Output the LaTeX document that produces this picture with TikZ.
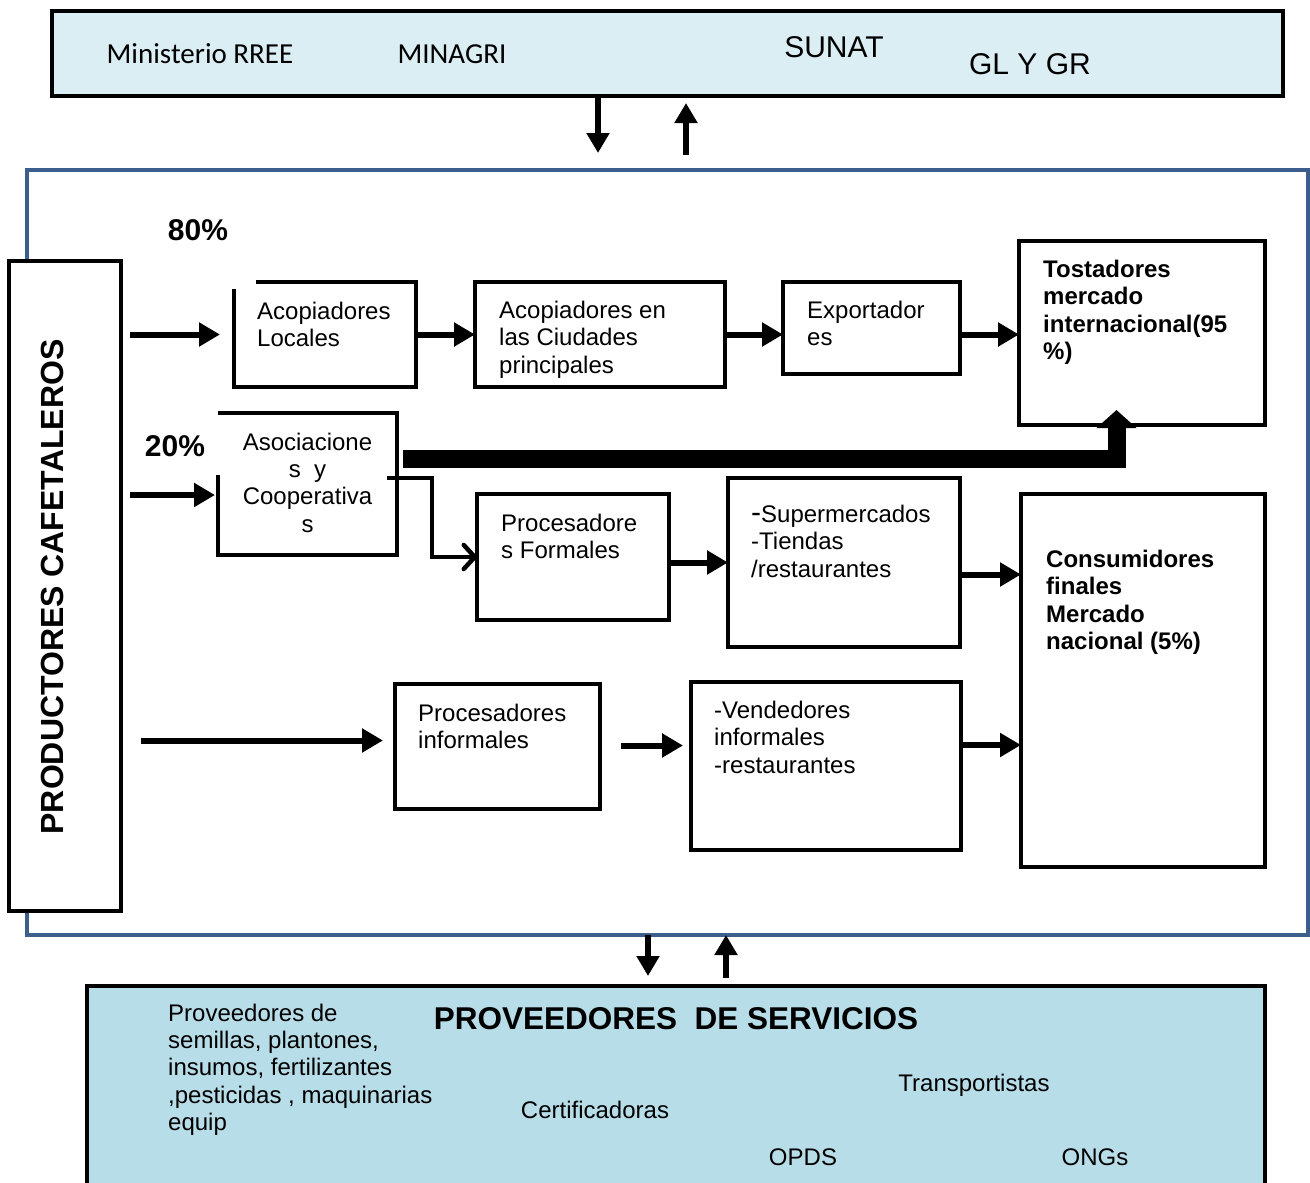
\documentclass[tikz,border=0pt]{standalone}
\usepackage{fontspec}
\setmainfont{Liberation Sans}
\newfontfamily\calib{Carlito}
\usetikzlibrary{arrows.meta}
\definecolor{topblue}{HTML}{DBEEF4}
\definecolor{svcblue}{HTML}{B7DDE8}
\definecolor{frameblue}{HTML}{3B5E8C}
\newcommand{\myfs}[2]{\fontsize{#1}{#2}\selectfont}
\begin{document}
\begin{tikzpicture}[x=1pt,y=-1pt,
  bx/.style={draw, fill=white, line width=4pt, anchor=north west, inner sep=0pt, outer sep=0pt},
  bxn/.style={anchor=north west, inner sep=0pt, outer sep=0pt},
  lbl/.style={anchor=north west, inner sep=0pt, align=left, font=\myfs{24}{27.6}},
  blbl/.style={anchor=north west, inner sep=0pt, align=left, font=\myfs{24}{27.6}\bfseries},
  one/.style={anchor=base, inner sep=0pt, font=\myfs{24}{27.6}},
  harr/.style={line width=6pt, -{Triangle[length=21pt,width=23pt]}},
  varr/.style={line width=5.5pt, -{Triangle[length=20pt,width=22pt]}},
  elb/.style={line width=4.5pt, line join=miter, -{Straight Barb[length=11pt,width=24pt,round]}},
  thickbar/.style={line width=18pt, line join=miter, -{Triangle[length=18pt,width=39pt]}},
  edge/.style={line width=4pt}
  ]
\useasboundingbox (0,0) rectangle (1310,1183);

% top government bar
\node[bx, fill=topblue, minimum width=1231, minimum height=85] (gov) at (52,11) {};
\node[anchor=base, inner sep=0pt, font=\calib\myfs{29}{33}] (t1) at (200,63) {Ministerio RREE};
\node[anchor=base, inner sep=0pt, font=\calib\myfs{29}{33}] (t2) at (452,63) {MINAGRI};
\node[anchor=base, inner sep=0pt, font=\myfs{30}{34}] (t3) at (834,57) {SUNAT};
\node[anchor=base, inner sep=0pt, font=\myfs{30}{34}] (t4) at (1030,74) {GL Y GR};

% main frame
\node[bx, fill=none, draw=frameblue, line width=3.5pt, minimum width=1281, minimum height=765] (frame) at (27,170) {};

\draw[varr] ([xshift=546pt]gov.south west) -- ([xshift=571pt,yshift=17pt]frame.north west);
\draw[varr] ([xshift=659pt,yshift=15pt]frame.north west) -- ([xshift=634pt,yshift=-7pt]gov.south west);

% productores
\node[bx, minimum width=112, minimum height=650] (prod) at (9,261) {};
\node[rotate=90, inner sep=0pt, font=\myfs{32}{34}\bfseries] (prodt) at (52,587) {PRODUCTORES CAFETALEROS};

\node[anchor=base, inner sep=0pt, font=\myfs{30}{34}\bfseries] (p80) at (198,240) {80\%};
\node[anchor=base, inner sep=0pt, font=\myfs{30}{34}\bfseries] (p20) at (175,456) {20\%};

% row 1
\node[bxn, minimum width=182, minimum height=105] (acl) at (234,282) {};
\draw[edge] ([yshift=-7pt]acl.north west) -- (acl.south west) -- (acl.south east) -- (acl.north east) -- ([xshift=22pt]acl.north west);
\node[lbl] (aclt) at (257,301.5) {Acopiadores\\Locales};

\node[bx, minimum width=250, minimum height=105] (acc) at (475,282) {};
\node[lbl] (acct) at (499,300.5) {Acopiadores en\\las Ciudades\\principales};

\node[bx, minimum width=177, minimum height=92] (exp) at (783,282) {};
\node[lbl] (expt) at (807,300.5) {Exportador\\es};

\node[bx, minimum width=246, minimum height=184] (tos) at (1019,241) {};
\node[blbl] (tost) at (1043,259.5) {Tostadores\\mercado\\internacional(95\\\%)};

\draw[harr] ([xshift=9pt]prod.east |- acl.west) -- ([xshift=-14pt]acl.west);
\draw[harr] (acl.east) -- (acc.west);
\draw[harr] (acc.east) -- (acc.east -| exp.west);
\draw[harr] (exp.east |- acc.east) -- (acc.east -| tos.west);

% asociaciones
\node[bxn, minimum width=179, minimum height=142] (aso) at (218,413) {};
\draw[edge] ([yshift=-62pt]aso.north west) -- (aso.south west) -- (aso.south east) -- (aso.north east) -- (aso.north west);
\node[anchor=north, inner sep=0pt, align=center, font=\myfs{24}{27.4}] (asot) at (307.5,432.5) {Asociacione\\s~~y\\Cooperativa\\s};
\draw[harr] ([xshift=9pt,yshift=-11pt]prod.east |- aso.west) -- ([xshift=-3pt,yshift=-11pt]aso.west);

\coordinate (tostip) at (1116.5,410);
\draw[thickbar] ([xshift=6pt,yshift=-46pt]aso.north east) -| (tostip);

% row 2
\node[bx, minimum width=192, minimum height=126] (pf) at (477,494) {};
\node[lbl] (pft) at (501,513.5) {Procesadore\\s Formales};
\draw[elb] ([xshift=-10pt,yshift=-65pt]aso.north east) -- ++(45,0) |- (pf.west);

\node[bx, minimum width=232, minimum height=169] (sup) at (728,478) {};
\node[lbl] (supt) at (751,504.5) {{\myfs{30}{27.6}-}Supermercados\\-Tiendas\\/restaurantes};
\draw[harr] (pf.east |- sup.west) -- (sup.west);

\node[bx, minimum width=244, minimum height=373] (cons) at (1021,494) {};
\node[blbl] (const) at (1046,549.5) {Consumidores\\finales\\Mercado\\nacional (5\%)};
\draw[harr] ([yshift=-12pt]sup.east) -- ([yshift=-12pt]sup.east -| cons.west);

% row 3
\node[bx, minimum width=205, minimum height=125] (pi) at (395,684) {};
\node[lbl] (pit) at (418,703.5) {Procesadores\\informales};
\node[bx, minimum width=270, minimum height=168] (ven) at (691,682) {};
\node[lbl] (vent) at (714,700.5) {-Vendedores\\informales\\-restaurantes};

\draw[harr] ([xshift=20pt,yshift=6pt]prod.east |- pi.west) -- ([xshift=-12pt,yshift=6pt]pi.west);
\draw[harr] ([xshift=21pt,yshift=1pt]pi.east) -- ([xshift=-8pt,yshift=1pt]pi.east -| ven.west);
\draw[harr] ([yshift=21pt]ven.east) -- ([yshift=21pt]ven.east -| cons.west);

% services box
\node[bxn, fill=svcblue, minimum width=1178, minimum height=205] (svc) at (87,986) {};
\draw[edge] (svc.south west) -- (svc.north west) -- (svc.north east) -- (svc.south east);

\draw[varr] ([xshift=621pt]frame.south west) -- ([xshift=561pt,yshift=10pt]svc.north west);
\draw[varr] ([xshift=639pt,yshift=8pt]svc.north west) -- ([xshift=699pt]frame.south west);

\node[anchor=base, inner sep=0pt, font=\myfs{31.5}{34}\bfseries] (svct) at (676,1029) {PROVEEDORES\ \ DE SERVICIOS};
\node[lbl, font=\myfs{24}{27.3}] (s1) at (168,1003.5) {Proveedores de\\semillas, plantones,\\insumos, fertilizantes\\,pesticidas , maquinarias\\equip};
\node[one] (s2) at (595,1118.5) {Certificadoras};
\node[one] (s3) at (974,1091.5) {Transportistas};
\node[one] (s4) at (803,1165.5) {OPDS};
\node[one] (s5) at (1095,1165.5) {ONGs};
\end{tikzpicture}
\end{document}
